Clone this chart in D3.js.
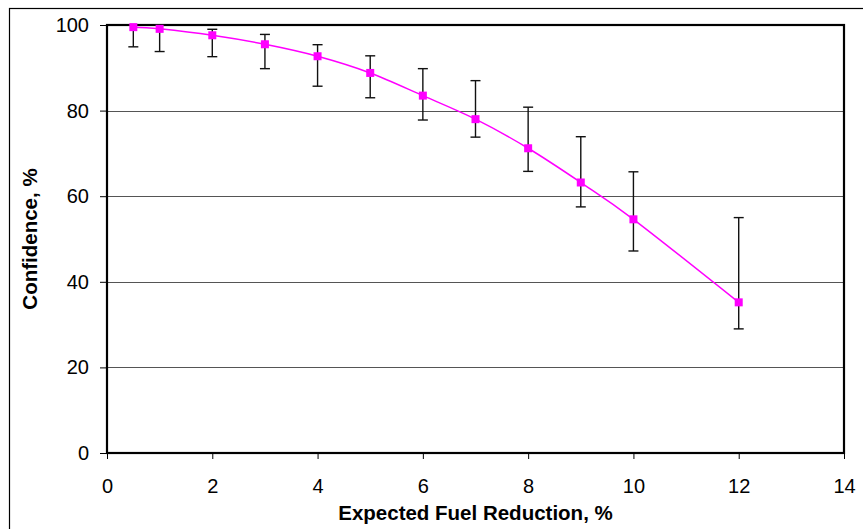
<!DOCTYPE html>
<html>
<head>
<meta charset="utf-8">
<script src="https://cdn.jsdelivr.net/npm/d3@7"></script>
<style>
  html, body { margin: 0; padding: 0; background: #fff; }
  svg { display: block; font-family: 'Liberation Sans', Arial, Helvetica, sans-serif; }
</style>
</head>
<body>
<div id="chart"></div>
<script>
// Expected fuel reduction vs confidence, with error bars
const reduction = [0.5, 1, 2, 3, 4, 5, 6, 7, 8, 9, 10, 12];
const confidence = [99.5, 99.1, 97.6, 95.5, 92.7, 88.8, 83.5, 78.0, 71.2, 63.2, 54.6, 35.2];
const errHigh = [100, 100, 99.0, 97.8, 95.4, 92.8, 89.8, 87.0, 80.8, 73.9, 65.7, 55.0];
const errLow = [94.9, 93.8, 92.6, 89.8, 85.7, 83.0, 77.8, 73.8, 65.8, 57.5, 47.2, 29.0];
const xTicks = [0, 2, 4, 6, 8, 10, 12, 14];
const yTicks = [0, 20, 40, 60, 80, 100];
const gridTicks = [20, 40, 60, 80];

const W = 863, H = 529;
const M = { top: 25, right: 19, bottom: 76, left: 107 };
const iW = W - M.left - M.right;
const iH = H - M.top - M.bottom;

const data = reduction.map((r, i) => ({ x: r, y: confidence[i], hi: errHigh[i], lo: errLow[i] }));

const svg = d3.select('#chart')
  .append('svg')
  .attr('width', W)
  .attr('height', H);

// outer chart frame (runs off the picture to the right and bottom)
svg.append('rect')
  .attr('x', 9.5).attr('y', 8.5)
  .attr('width', 900).attr('height', 600)
  .attr('fill', 'none')
  .attr('stroke', '#000')
  .attr('stroke-width', 1.2);

const g = svg.append('g').attr('transform', `translate(${M.left},${M.top})`);

const x = d3.scaleLinear().domain([0, 14]).range([0, iW]);
const y = d3.scaleLinear().domain([0, 100]).range([iH, 0]);

// Grid lines
g.append('g')
  .selectAll('line')
  .data(gridTicks)
  .join('line')
  .attr('x1', 0).attr('x2', iW)
  .attr('y1', d => Math.round(y(d)) + 0.5).attr('y2', d => Math.round(y(d)) + 0.5)
  .attr('stroke', '#555')
  .attr('stroke-width', 1);

// Axes
g.append('g')
  .attr('transform', `translate(0,${iH})`)
  .call(d3.axisBottom(x).tickValues(xTicks).tickSize(6).tickPadding(20))
  .call(ax => ax.select('.domain').remove())
  .call(ax => ax.selectAll('line').attr('stroke', '#000'))
  .call(ax => ax.selectAll('text').attr('font-size', 20).attr('fill', '#000')
    .attr('font-family', "'Liberation Sans', Arial, sans-serif"));

g.append('g')
  .call(d3.axisLeft(y).tickValues(yTicks).tickSize(7).tickPadding(11))
  .call(ax => ax.select('.domain').remove())
  .call(ax => ax.selectAll('line').attr('stroke', '#000'))
  .call(ax => ax.selectAll('text').attr('font-size', 20).attr('fill', '#000')
    .attr('font-family', "'Liberation Sans', Arial, sans-serif"));

// Plot area border
g.append('rect')
  .attr('x', 0).attr('y', 0)
  .attr('width', iW).attr('height', iH)
  .attr('fill', 'none')
  .attr('stroke', '#000')
  .attr('stroke-width', 2.2);

// Error bars
const eb = g.append('g')
  .attr('stroke', '#111')
  .attr('stroke-width', 1.4);
eb.selectAll('.stem')
  .data(data)
  .join('line')
  .attr('class', 'stem')
  .attr('x1', d => x(d.x)).attr('x2', d => x(d.x))
  .attr('y1', d => y(d.hi)).attr('y2', d => y(d.lo));
eb.selectAll('.capHi')
  .data(data)
  .join('line')
  .attr('class', 'capHi')
  .attr('x1', d => x(d.x) - 5).attr('x2', d => x(d.x) + 5)
  .attr('y1', d => y(d.hi)).attr('y2', d => y(d.hi));
eb.selectAll('.capLo')
  .data(data)
  .join('line')
  .attr('class', 'capLo')
  .attr('x1', d => x(d.x) - 5).attr('x2', d => x(d.x) + 5)
  .attr('y1', d => y(d.lo)).attr('y2', d => y(d.lo));

// Smoothed line
const line = d3.line()
  .x(d => x(d.x))
  .y(d => y(d.y))
  .curve(d3.curveCatmullRom.alpha(0));

g.append('path')
  .datum(data)
  .attr('d', line)
  .attr('fill', 'none')
  .attr('stroke', '#ff00ff')
  .attr('stroke-width', 1.5);

// Markers
g.selectAll('.mk')
  .data(data)
  .join('rect')
  .attr('class', 'mk')
  .attr('x', d => x(d.x) - 4)
  .attr('y', d => y(d.y) - 4)
  .attr('width', 8).attr('height', 8)
  .attr('fill', '#ff00ff');

// Axis titles
svg.append('text')
  .attr('x', M.left + iW / 2).attr('y', 520)
  .attr('text-anchor', 'middle')
  .attr('font-size', 20.5).attr('font-weight', 'bold')
  .text('Expected Fuel Reduction, %');

svg.append('text')
  .attr('transform', `translate(37,${M.top + iH / 2}) rotate(-90)`)
  .attr('text-anchor', 'middle')
  .attr('font-size', 20.5).attr('font-weight', 'bold')
  .text('Confidence, %');
</script>
</body>
</html>
